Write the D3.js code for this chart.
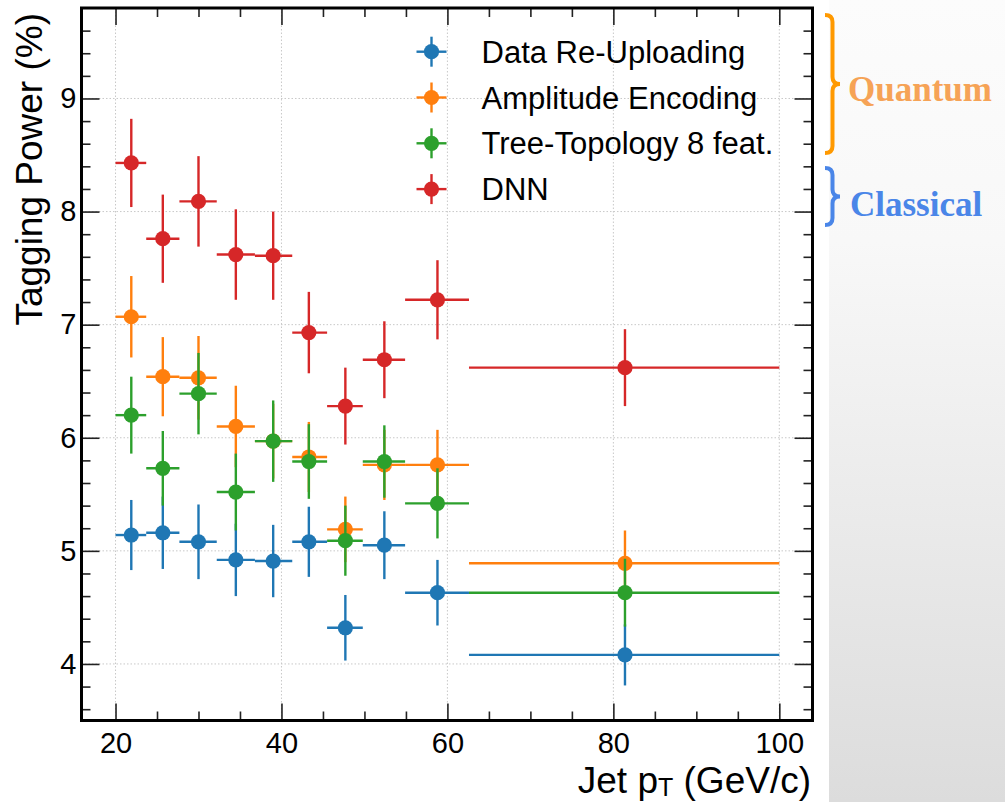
<!DOCTYPE html>
<html>
<head>
<meta charset="utf-8">
<script src="https://cdn.jsdelivr.net/npm/d3@7"></script>
<style>
	body { margin: 0; background: #fff; }
	svg { display: block; font-family: "Liberation Sans", Arial, Helvetica, sans-serif; }
</style>
</head>
<body>
<div id="chart"></div>
<script>
// bin edges along jet pT and the point positions inside each bin
var binEdges = [20, 23.7, 27.7, 32.2, 36.8, 41.3, 45.5, 49.8, 54.9, 62.6, 100];
var ptCenters = [21.9, 25.7, 30.0, 34.5, 39.0, 43.3, 47.7, 52.4, 58.8, 81.4];

// tagging power (%) and its uncertainty for each model
var reUploading = [5.14, 5.16, 5.08, 4.92, 4.91, 5.08, 4.32, 5.05, 4.63, 4.08];
var reUploadingErr = [0.31, 0.32, 0.33, 0.32, 0.32, 0.31, 0.29, 0.30, 0.29, 0.27];
var amplitude = [7.07, 6.54, 6.53, 6.10, 5.97, 5.83, 5.19, 5.76, 5.76, 4.89];
var amplitudeErr = [0.36, 0.35, 0.37, 0.36, 0.33, 0.31, 0.29, 0.31, 0.31, 0.29];
var treeTopology = [6.20, 5.73, 6.39, 5.52, 5.97, 5.79, 5.09, 5.79, 5.42, 4.63];
var treeTopologyErr = [0.34, 0.33, 0.36, 0.34, 0.36, 0.33, 0.31, 0.32, 0.31, 0.30];
var dnn = [8.43, 7.76, 8.09, 7.62, 7.61, 6.93, 6.28, 6.69, 7.22, 6.62];
var dnnErr = [0.39, 0.39, 0.40, 0.40, 0.39, 0.36, 0.34, 0.34, 0.35, 0.34];

var seriesNames = ['Data Re-Uploading', 'Amplitude Encoding', 'Tree-Topology 8 feat.', 'DNN'];
var seriesColors = ['#1f77b4', '#ff7f0e', '#2ca02c', '#d62728'];

var xMajorTicks = [20, 40, 60, 80, 100];
var xMinorTicks = [25, 30, 35, 45, 50, 55, 65, 70, 75, 85, 90, 95];
var yMajorTicks = [4, 5, 6, 7, 8, 9];

var params = {
	width: 1005,
	height: 802,
	left: 81.5,
	right: 812.5,
	top: 8,
	bottom: 720.5
};

var series = [
	{name: seriesNames[0], color: seriesColors[0], values: reUploading, errs: reUploadingErr},
	{name: seriesNames[1], color: seriesColors[1], values: amplitude, errs: amplitudeErr},
	{name: seriesNames[2], color: seriesColors[2], values: treeTopology, errs: treeTopologyErr},
	{name: seriesNames[3], color: seriesColors[3], values: dnn, errs: dnnErr}
];

var svg = d3.select('#chart').append('svg')
	.attr('width', params.width)
	.attr('height', params.height);

// grey slide background on the right
var grad = svg.append('defs').append('linearGradient')
	.attr('id', 'sideGrad')
	.attr('x1', 0).attr('y1', 0).attr('x2', 0).attr('y2', 1);
grad.append('stop').attr('offset', '0').attr('stop-color', '#fcfcfc');
grad.append('stop').attr('offset', '0.3').attr('stop-color', '#f8f8f8');
grad.append('stop').attr('offset', '1').attr('stop-color', '#dcdcdc');

svg.append('rect')
	.attr('x', 829).attr('y', 0)
	.attr('width', params.width - 829).attr('height', params.height)
	.attr('fill', 'url(#sideGrad)');

var x = d3.scaleLinear().domain([15.9, 104]).range([params.left, params.right]);
var y = d3.scaleLinear().domain([3.5, 9.8]).range([params.bottom, params.top]);

// dotted grid at major ticks
var grid = svg.append('g');
grid.selectAll('.vgrid').data(xMajorTicks).enter().append('line')
	.attr('x1', function(d) { return x(d); }).attr('x2', function(d) { return x(d); })
	.attr('y1', params.top).attr('y2', params.bottom)
	.attr('stroke', '#c8c8c8').attr('stroke-width', 1).attr('stroke-dasharray', '1.5,2');
grid.selectAll('.hgrid').data(yMajorTicks).enter().append('line')
	.attr('x1', params.left).attr('x2', params.right)
	.attr('y1', function(d) { return y(d); }).attr('y2', function(d) { return y(d); })
	.attr('stroke', '#c8c8c8').attr('stroke-width', 1).attr('stroke-dasharray', '1.5,2');

// data series: error bars, then the marker, one series over the other
series.forEach(function(s) {
	var g = svg.append('g');
	var pts = s.values.map(function(v, i) {
		return {x: ptCenters[i], lo: binEdges[i], hi: binEdges[i + 1], v: v, e: s.errs[i]};
	});
	g.selectAll('.xerr').data(pts).enter().append('line')
		.attr('x1', function(d) { return x(d.lo); })
		.attr('x2', function(d) { return x(d.hi); })
		.attr('y1', function(d) { return y(d.v); })
		.attr('y2', function(d) { return y(d.v); })
		.attr('stroke', s.color).attr('stroke-width', 2.4);
	g.selectAll('.yerr').data(pts).enter().append('line')
		.attr('x1', function(d) { return x(d.x); })
		.attr('x2', function(d) { return x(d.x); })
		.attr('y1', function(d) { return y(d.v - d.e); })
		.attr('y2', function(d) { return y(d.v + d.e); })
		.attr('stroke', s.color).attr('stroke-width', 2.4);
	g.selectAll('circle').data(pts).enter().append('circle')
		.attr('cx', function(d) { return x(d.x); })
		.attr('cy', function(d) { return y(d.v); })
		.attr('r', 7.6)
		.attr('fill', s.color);
});

// axes, ticks pointing inward on all four sides
function styleAxis(g, showLabels) {
	g.select('.domain').remove();
	g.selectAll('.tick line').attr('stroke', '#222').attr('stroke-width', 1.6);
	g.selectAll('.tick text')
		.attr('fill', '#000')
		.style('font-size', '29px')
		.style('display', showLabels ? null : 'none');
}

svg.append('g').attr('transform', 'translate(0,' + params.bottom + ')')
	.call(d3.axisBottom(x).tickValues(xMajorTicks).tickSize(-17).tickPadding(12).tickFormat(d3.format('d')))
	.call(styleAxis, true);
svg.append('g').attr('transform', 'translate(0,' + params.bottom + ')')
	.call(d3.axisBottom(x).tickValues(xMinorTicks).tickSize(-9))
	.call(styleAxis, false);
svg.append('g').attr('transform', 'translate(0,' + params.top + ')')
	.call(d3.axisTop(x).tickValues(xMajorTicks).tickSize(-17))
	.call(styleAxis, false);
svg.append('g').attr('transform', 'translate(0,' + params.top + ')')
	.call(d3.axisTop(x).tickValues(xMinorTicks).tickSize(-9))
	.call(styleAxis, false);

var yMinor = d3.range(36, 98, 2).map(function(d) { return d / 10; }).filter(function(d) { return Math.abs(d - Math.round(d)) > 0.01; });
svg.append('g').attr('transform', 'translate(' + params.left + ',0)')
	.call(d3.axisLeft(y).tickValues(yMajorTicks).tickSize(-18).tickPadding(5).tickFormat(d3.format('d')))
	.call(styleAxis, true);
svg.append('g').attr('transform', 'translate(' + params.left + ',0)')
	.call(d3.axisLeft(y).tickValues(yMinor).tickSize(-9))
	.call(styleAxis, false);
svg.append('g').attr('transform', 'translate(' + params.right + ',0)')
	.call(d3.axisRight(y).tickValues(yMajorTicks).tickSize(-18))
	.call(styleAxis, false);
svg.append('g').attr('transform', 'translate(' + params.right + ',0)')
	.call(d3.axisRight(y).tickValues(yMinor).tickSize(-9))
	.call(styleAxis, false);

// frame
svg.append('rect')
	.attr('x', params.left).attr('y', params.top)
	.attr('width', params.right - params.left).attr('height', params.bottom - params.top)
	.attr('fill', 'none').attr('stroke', '#000').attr('stroke-width', 3);

// axis titles
svg.append('text')
	.attr('transform', 'translate(42,13) rotate(-90)')
	.style('text-anchor', 'end')
	.style('font-size', '37px')
	.text('Tagging Power (%)');

var xt = svg.append('text')
	.attr('x', 811).attr('y', 793)
	.style('text-anchor', 'end')
	.style('font-size', '37px');
xt.append('tspan').text('Jet p');
xt.append('tspan').attr('dy', 3).style('font-size', '25px').text('T');
xt.append('tspan').attr('dy', -3).text(' (GeV/c)');

// legend
var legend = svg.append('g');
var legendRows = legend.selectAll('g').data(series).enter().append('g')
	.attr('transform', function(d, i) { return 'translate(431.5,' + (51.7 + i * 45.8) + ')'; });
legendRows.append('line').attr('x1', -15).attr('x2', 15).attr('y1', 0).attr('y2', 0)
	.attr('stroke', function(d) { return d.color; }).attr('stroke-width', 2.4);
legendRows.append('line').attr('x1', 0).attr('x2', 0).attr('y1', -15).attr('y2', 15)
	.attr('stroke', function(d) { return d.color; }).attr('stroke-width', 2.4);
legendRows.append('circle').attr('r', 7.6).attr('fill', function(d) { return d.color; });
legendRows.append('text')
	.attr('x', 50).attr('y', 11)
	.style('font-size', '31px')
	.text(function(d) { return d.name; });

// group braces
function bracePath(x0, y0, y1, width) {
	var xm = x0 + width / 2, x1 = x0 + width, ym = (y0 + y1) / 2, r = 7;
	return 'M' + x0 + ',' + y0 +
		' Q' + xm + ',' + y0 + ' ' + xm + ',' + (y0 + r) +
		' L' + xm + ',' + (ym - r) +
		' Q' + xm + ',' + ym + ' ' + x1 + ',' + ym +
		' Q' + xm + ',' + ym + ' ' + xm + ',' + (ym + r) +
		' L' + xm + ',' + (y1 - r) +
		' Q' + xm + ',' + y1 + ' ' + x0 + ',' + y1;
}

svg.append('path').attr('d', bracePath(825, 15, 153, 15))
	.attr('fill', 'none').attr('stroke', '#ff9900').attr('stroke-width', 4);
svg.append('path').attr('d', bracePath(825, 168, 225, 15))
	.attr('fill', 'none').attr('stroke', '#4a86e8').attr('stroke-width', 4);

svg.append('text')
	.attr('x', 848).attr('y', 101)
	.style('font-family', '"Liberation Serif", "Times New Roman", serif')
	.style('font-weight', 'bold')
	.style('font-size', '35px')
	.attr('fill', '#f6a356')
	.text('Quantum');
svg.append('text')
	.attr('x', 850).attr('y', 216)
	.style('font-family', '"Liberation Serif", "Times New Roman", serif')
	.style('font-weight', 'bold')
	.style('font-size', '35px')
	.attr('fill', '#4a86e8')
	.text('Classical');
</script>
</body>
</html>
